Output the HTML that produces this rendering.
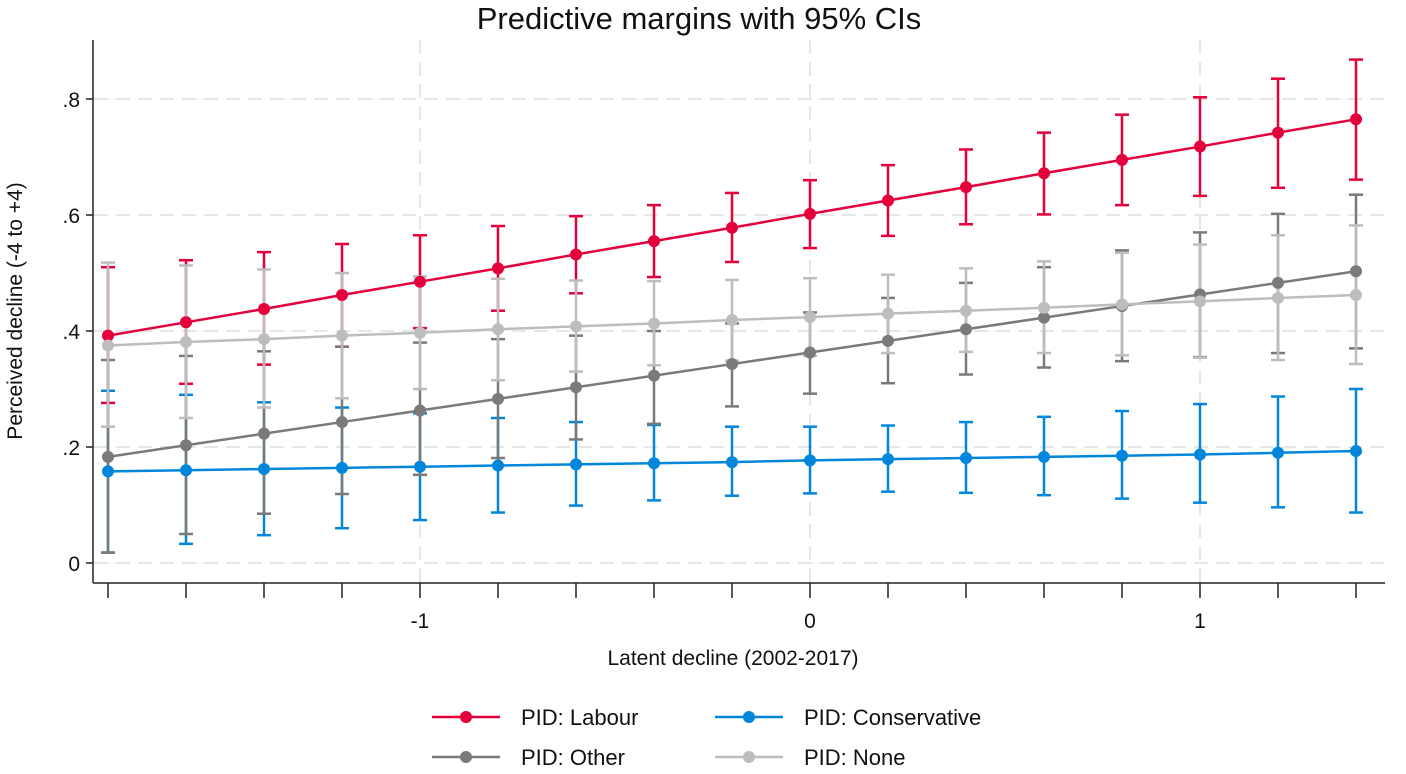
<!DOCTYPE html>
<html><head><meta charset="utf-8"><style>
body{margin:0;background:#fff;font-family:"Liberation Sans",sans-serif;}
svg text{font-family:"Liberation Sans",sans-serif;fill:#111;}
</style></head><body>
<svg id="chart" width="1406" height="769" viewBox="0 0 1406 769" xmlns="http://www.w3.org/2000/svg">
<text x="699" y="29" font-size="31" text-anchor="middle">Predictive margins with 95% CIs</text>
<g id="grid"></g>
<g id="axes"></g>
<g id="series"></g>
<text transform="translate(22,311) rotate(-90)" font-size="21" text-anchor="middle">Perceived decline (-4 to +4)</text>
<text x="733" y="665" font-size="21" text-anchor="middle">Latent decline (2002-2017)</text>
<g id="legend"></g>
</svg>
<script>
const xValues=[-1.8,-1.6,-1.4,-1.2,-1.0,-0.8,-0.6,-0.4,-0.2,0,0.2,0.4,0.6,0.8,1.0,1.2,1.4];
const yTicks=[0,0.2,0.4,0.6,0.8];
const yTickLabels=["0",".2",".4",".6",".8"];
const xTicks=[-1,0,1];
const xTickLabels=["-1","0","1"];
const labourMean=[.392,.415,.438,.462,.485,.508,.532,.555,.578,.602,.625,.648,.672,.695,.718,.742,.765];
const labourHi=[.51,.522,.536,.55,.565,.581,.598,.617,.638,.66,.686,.713,.742,.773,.803,.835,.868];
const labourLo=[.276,.309,.342,.373,.405,.435,.465,.493,.519,.543,.564,.584,.601,.617,.633,.647,.661];
const consMean=[.158,.160,.162,.164,.166,.168,.170,.172,.174,.177,.179,.181,.183,.185,.187,.190,.193];
const consHi=[.297,.29,.277,.268,.258,.25,.243,.238,.235,.235,.237,.243,.252,.262,.274,.287,.3];
const consLo=[.018,.033,.048,.06,.074,.087,.099,.108,.116,.12,.123,.121,.117,.111,.104,.096,.087];
const otherMean=[.183,.203,.223,.243,.263,.283,.303,.323,.343,.363,.383,.403,.423,.443,.463,.483,.503];
const otherHi=[.35,.357,.365,.373,.38,.386,.392,.40,.413,.432,.457,.483,.51,.539,.57,.602,.635];
const otherLo=[.018,.05,.085,.119,.152,.181,.213,.24,.27,.292,.31,.325,.337,.348,.355,.362,.37];
const noneMean=[.375,.381,.386,.392,.397,.403,.408,.413,.419,.424,.430,.435,.440,.446,.451,.457,.462];
const noneHi=[.518,.513,.506,.5,.494,.49,.487,.486,.488,.491,.497,.508,.52,.535,.549,.565,.582];
const noneLo=[.235,.25,.268,.284,.3,.315,.33,.341,.349,.357,.362,.364,.362,.358,.354,.35,.343];

const NS="http://www.w3.org/2000/svg";
const X=v=>810+v*390;
const Y=v=>563-v*580;
function mk(tag,attrs,parent){const e=document.createElementNS(NS,tag);for(const k in attrs)e.setAttribute(k,attrs[k]);parent.appendChild(e);return e;}
const grid=document.getElementById('grid'),axes=document.getElementById('axes'),ser=document.getElementById('series'),leg=document.getElementById('legend');
yTicks.forEach((t,i)=>{
  const g=mk('line',{x1:94,x2:1385,y1:Y(t),y2:Y(t),stroke:'#e6e6e6','stroke-width':2,'stroke-dasharray':'14 8'},grid);
  
  
  const tk=mk('line',{x1:86,x2:93,y1:Y(t),y2:Y(t),stroke:'#222','stroke-width':1.5},axes);
  
  
  const tx=mk('text',{x:80,y:Y(t)+8,'font-size':21,'text-anchor':'end'},axes);tx.textContent=yTickLabels[i];
  
  
});
xTicks.forEach((t,i)=>{
  const g=mk('line',{x1:X(t),x2:X(t),y1:40,y2:582,stroke:'#e6e6e6','stroke-width':2,'stroke-dasharray':'14 8'},grid);
  
  
  const tx=mk('text',{x:X(t),y:628,'font-size':21,'text-anchor':'middle'},axes);tx.textContent=xTickLabels[i];
  
  
});
xValues.forEach(v=>{
  const tk=mk('line',{x1:X(v),x2:X(v),y1:583,y2:598,stroke:'#222','stroke-width':1.5},axes);
  
  
});
const ya=mk('line',{x1:93,x2:93,y1:40,y2:583,stroke:'#222','stroke-width':1.5},axes);


const xa=mk('line',{x1:93,x2:1385,y1:583,y2:583,stroke:'#222','stroke-width':1.5},axes);



const series=[
 {name:'labour',color:'#e4003b',m:labourMean,h:labourHi,l:labourLo},
 {name:'conservative',color:'#0087dc',m:consMean,h:consHi,l:consLo},
 {name:'other',color:'#7a7a7a',m:otherMean,h:otherHi,l:otherLo},
 {name:'none',color:'#bdbdbd',m:noneMean,h:noneHi,l:noneLo}
];
series.forEach(s=>{
  xValues.forEach((v,i)=>{
    const g=mk('g',{stroke:s.color,'stroke-width':2.5},ser);
    
    
    mk('line',{x1:X(v),x2:X(v),y1:Y(s.h[i]),y2:Y(s.l[i])},g);
    mk('line',{x1:X(v)-7,x2:X(v)+7,y1:Y(s.h[i]),y2:Y(s.h[i])},g);
    mk('line',{x1:X(v)-7,x2:X(v)+7,y1:Y(s.l[i]),y2:Y(s.l[i])},g);
  });
});
series.forEach(s=>{
  const pl=mk('polyline',{points:xValues.map((v,i)=>X(v)+','+Y(s.m[i])).join(' '),fill:'none',stroke:s.color,'stroke-width':2.5},ser);
  
  
  xValues.forEach((v,i)=>{
    const c=mk('circle',{cx:X(v),cy:Y(s.m[i]),r:6,fill:s.color},ser);
    
    
  });
});
const legItems=[['labour','PID: Labour',432,717],['conservative','PID: Conservative',715,717],['other','PID: Other',432,757],['none','PID: None',715,757]];
legItems.forEach(it=>{
  const s=series.find(q=>q.name===it[0]);
  const g=mk('g',{},leg);
  
  
  mk('line',{x1:it[2],x2:it[2]+68,y1:it[3],y2:it[3],stroke:s.color,'stroke-width':2.5},g);
  mk('circle',{cx:it[2]+34,cy:it[3],r:6,fill:s.color},g);
  const t=mk('text',{x:it[2]+89,y:it[3]+8,'font-size':22},g);t.textContent=it[1];
});
</script>
</body></html>
